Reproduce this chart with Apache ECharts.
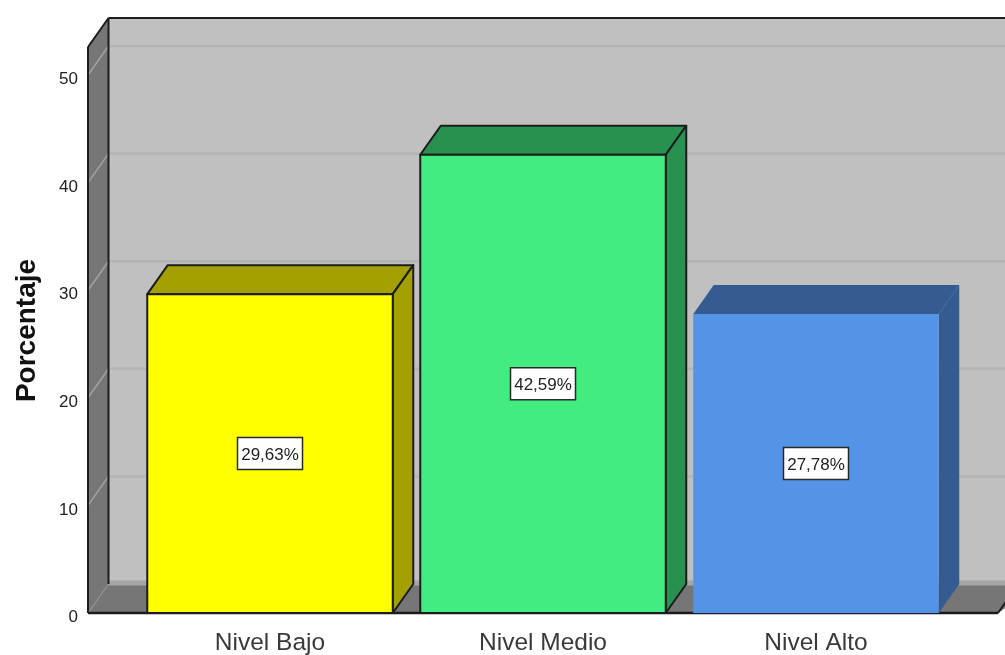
<!DOCTYPE html>
<html><head><meta charset="utf-8">
<style>html,body{margin:0;padding:0;background:#fff}#c{width:1005px;height:655px;filter:blur(0.5px)}</style>
<script src="https://cdn.jsdelivr.net/npm/echarts@6/dist/echarts.min.js"></script>
</head><body><div id="c"></div>
<script>
const categories = ['Nivel Bajo', 'Nivel Medio', 'Nivel Alto'];
const percentages = [29.63, 42.59, 27.78];
const percentLabels = ['29,63%', '42,59%', '27,78%'];
const frontColors = ['#ffff00', '#42ec80', '#5494e6'];
const depthColors = ['#a3a000', '#289150', '#345c90'];
const edgeColors = ['#1c1c1c', '#1c1c1c', null];
const yTicks = [0, 10, 20, 30, 40, 50];
const yMax = 50, yTop = 52.6;
const DX = 20.5, DY = -29, BAR_W = 245.5;
const chart = echarts.init(document.getElementById('c'));
const poly = (pts, fill, stroke, w) => ({type:'polygon', shape:{points:pts}, style:{fill:fill, stroke:stroke||null, lineWidth:w||0, lineJoin:'round'}});
const line = (a, b, stroke, w) => ({type:'line', shape:{x1:a[0],y1:a[1],x2:b[0],y2:b[1]}, style:{stroke:stroke, lineWidth:w}});
function renderWalls(params, api) {
  const o = api.coord([0, 0]);
  const step = api.size([1, 0])[0];
  const ty = api.coord([0, yTop])[1];
  const fy = o[1];
  const L = o[0] - step / 2 - 45.5, R = L + 910;
  const far = 1040;
  const ch = [];
  ch.push(poly([[L+DX,ty+DY],[far,ty+DY],[far,fy+DY],[L+DX,fy+DY]], '#c0c0c0'));
  ch.push(poly([[L,ty],[L+DX,ty+DY],[L+DX,fy+DY],[L,fy]], '#767676'));
  ch.push(poly([[L,fy],[L+DX,fy+DY],[far,fy+DY],[R,fy]], '#767676'));
  yTicks.forEach(t => {
    const y = api.coord([0, t])[1];
    if (t > 0) {
      ch.push(line([L+DX,y+DY],[far,y+DY],'#b4b4b4',2.5));
      ch.push(line([L,y],[L+DX,y+DY],'#a2a2a2',1.5));
    } else {
      ch.push(line([L+DX,y+DY-1],[far,y+DY-1],'#a6a6a6',5));
      ch.push(line([L,y],[L+DX,y+DY],'#979797',1));
    }
  });
  ch.push(line([L,fy],[L,ty],'#1c1c1c',2));
  ch.push(line([L,ty],[L+DX,ty+DY],'#1c1c1c',2));
  ch.push(line([L+DX,ty+DY],[far,ty+DY],'#1c1c1c',2));
  ch.push(line([L+DX,ty+DY],[L+DX,fy+DY],'#1c1c1c',2));
  ch.push(line([L,fy],[R,fy],'#1c1c1c',2.5));
  ch.push(line([R,fy],[R+DX,fy+DY],'#1c1c1c',2));
  return {type:'group', children:ch};
}
function renderBar(params, api) {
  const i = api.value(0), v = api.value(1);
  const c = api.coord([i, v]), b = api.coord([i, 0]);
  const l = c[0] - BAR_W / 2, r = c[0] + BAR_W / 2, t = c[1], f = b[1];
  const e = edgeColors[i], w = 2;
  const midY = (t + f) / 2;
  return {type:'group', children:[
    poly([[l,t],[l+DX,t+DY],[r+DX,t+DY],[r,t]], depthColors[i], e, w),
    poly([[r,t],[r+DX,t+DY],[r+DX,f+DY],[r,f]], depthColors[i], e, w),
    poly([[l,t],[r,t],[r,f],[l,f]], frontColors[i], e, w),
    {type:'rect', shape:{x:c[0]-32.5,y:midY-16,width:65,height:32}, style:{fill:'#fff',stroke:'#2a2a2a',lineWidth:1.5}},
    {type:'text', x:c[0], y:midY+1.5, style:{text:percentLabels[i], fill:'#222', font:'17px "Liberation Sans"', align:'center', verticalAlign:'middle'}}
  ]};
}
chart.setOption({
  animation:false,
  backgroundColor:'#fff',
  grid:{left:133.5, width:819, top:75, height:538, outerBoundsMode:'none'},
  xAxis:{type:'category', data:categories, axisLine:{show:false}, axisTick:{show:false}, splitLine:{show:false},
    axisLabel:{color:'#3a3a3a', fontFamily:'Liberation Sans', fontSize:24.5, margin:18}},
  yAxis:{type:'value', min:0, max:yMax, interval:10, offset:45.5,
    name:'Porcentaje', nameLocation:'middle', nameGap:47, nameRotate:90,
    nameTextStyle:{fontFamily:'Liberation Sans', fontWeight:'bold', fontSize:28, color:'#111', padding:[0,0,0,27]},
    axisLine:{show:false}, axisTick:{show:false}, splitLine:{show:false},
    axisLabel:{color:'#222', fontFamily:'Liberation Sans', fontSize:17, margin:10, verticalAlign:'top', lineHeight:9}},
  series:[
    {type:'custom', clip:false, silent:true, z:1, renderItem:renderWalls, data:[[0,0]], encode:{x:0,y:1}},
    {type:'custom', clip:false, silent:true, z:2, renderItem:renderBar, data:percentages.map((v,i)=>[i,v]), encode:{x:0,y:1}}
  ]
});
</script></body></html>
